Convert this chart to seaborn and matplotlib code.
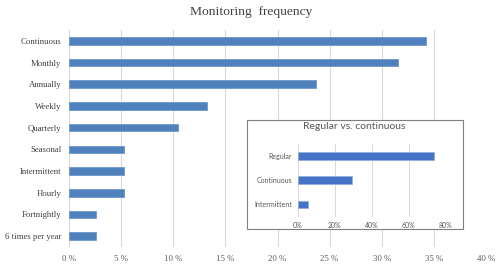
import matplotlib
matplotlib.use("Agg")
import matplotlib.pyplot as plt
import seaborn as sns
import pandas as pd
from matplotlib.patches import Rectangle
from matplotlib.ticker import FuncFormatter

categories = ["Continuous", "Monthly", "Annually", "Weekly", "Quarterly",
              "Seasonal", "Intermittent", "Hourly", "Fortnightly", "6 times per year"]
shares = [34.2, 31.6, 23.7, 13.2, 10.5, 5.3, 5.3, 5.3, 2.6, 2.6]
main_ticks = [0, 5, 10, 15, 20, 25, 30, 35, 40]

inset_categories = ["Regular", "Continuous", "Intermittent"]
inset_shares = [73.5, 29.5, 5.3]
inset_ticks = [0, 20, 40, 60, 80]

sns.set_theme(style="white")
plt.rcParams["font.family"] = ["Liberation Serif", "DejaVu Serif"]

fig = plt.figure(figsize=(5, 2.7), dpi=100)
ax = fig.add_axes([0.138, 0.085, 0.834, 0.804])

df = pd.DataFrame({"cat": categories, "val": shares})
sns.barplot(data=df, y="cat", x="val", orient="h", color="#4F81BD",
            width=0.35, ax=ax, saturation=1, edgecolor="#6f98cc", linewidth=0.6)
ax.set_xlim(0, 40)
ax.set_ylim(len(categories) - 0.5, -0.5)
ax.set_xticks(main_ticks)
ax.xaxis.set_major_formatter(FuncFormatter(lambda v, p: f"{int(v)} %"))
ax.grid(axis="x", color="#d9d9d9", linewidth=0.8)
ax.set_axisbelow(True)
for s in ax.spines.values():
    s.set_visible(False)
ax.set_xlabel("")
ax.set_ylabel("")
ax.tick_params(axis="x", labelsize=6.3, colors="#595959", length=0, pad=6)
ax.tick_params(axis="y", labelsize=6.3, colors="#404040", length=0, pad=5.5)
fig.text(0.503, 0.955, "Monitoring  frequency", ha="center", va="center",
         fontsize=9.7, color="#404040", family=["Liberation Serif"])

# inset box
box = Rectangle((0.4946, 0.1507), 0.4308, 0.4049, transform=fig.transFigure,
                facecolor="white", edgecolor="#7f7f7f", linewidth=0.8, zorder=5)
fig.patches.append(box)
fig.text(0.708, 0.53, "Regular vs. continuous", ha="center", va="center",
         fontsize=7.5, color="#595959", family=["Lato", "DejaVu Sans"], zorder=6)

ax2 = fig.add_axes([0.5954, 0.198, 0.296, 0.270], zorder=6)
ax2.patch.set_alpha(0)
df2 = pd.DataFrame({"cat": inset_categories, "val": inset_shares})
sns.barplot(data=df2, y="cat", x="val", orient="h", color="#4472C4",
            width=0.32, ax=ax2, saturation=1, edgecolor="#8faadc", linewidth=0.5)
ax2.set_xlim(0, 80)
ax2.set_ylim(len(inset_categories) - 0.5, -0.5)
ax2.set_xticks(inset_ticks)
ax2.xaxis.set_major_formatter(FuncFormatter(lambda v, p: f"{int(v)}%"))
ax2.grid(axis="x", color="#d9d9d9", linewidth=0.7)
ax2.set_axisbelow(True)
for s in ax2.spines.values():
    s.set_visible(False)
ax2.set_xlabel("")
ax2.set_ylabel("")
for lab in ax2.get_xticklabels() + ax2.get_yticklabels():
    lab.set_family(["Lato", "DejaVu Sans"])
ax2.tick_params(axis="x", labelsize=5, colors="#595959", length=0, pad=4)
ax2.tick_params(axis="y", labelsize=5, colors="#595959", length=0, pad=4)

fig.savefig("out.png", dpi=100)
